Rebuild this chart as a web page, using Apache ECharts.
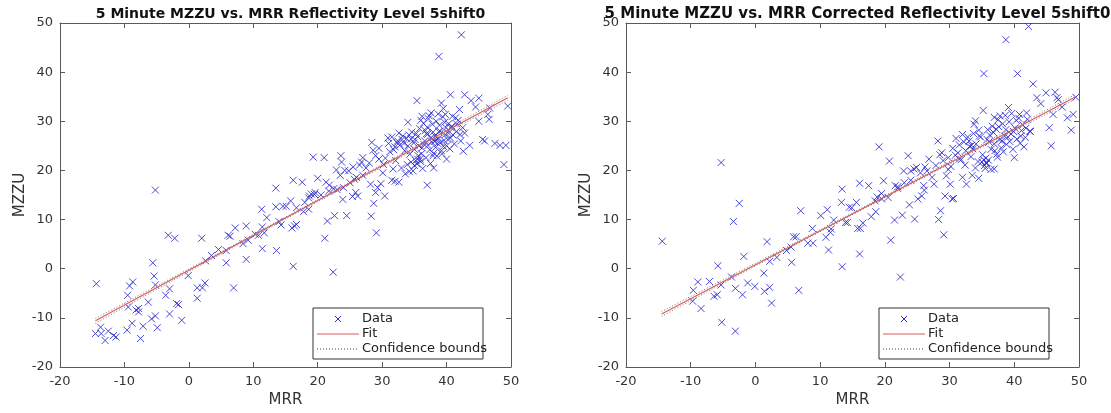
<!DOCTYPE html>
<html>
<head>
<meta charset="utf-8">
<title>MZZU vs MRR</title>
<script src="https://cdn.jsdelivr.net/npm/echarts@6/dist/echarts.min.js"></script>
<style>
  html, body { margin: 0; padding: 0; background: #fff; }
  #chart { width: 1111px; height: 413px; }
</style>
</head>
<body>
<div id="chart"></div>
<script>
// axis ticks (both panels share them)
const xTicks = [-20, -10, 0, 10, 20, 30, 40, 50]
const yTicks = [-20, -10, 0, 10, 20, 30, 40, 50]

// panel 1: MRR reflectivity vs MZZU, [MRR, MZZU]
const rawPoints = [
  [-14.35, -3.05], [-14.5, -13.2], [-13.6, -13.2], [-13.7, -11.9], [-13.0, -14.6], [-12.5, -12.7],
  [-11.7, -13.6], [-11.3, -13.9], [-9.6, -12.5], [-9.4, -7.8], [-9.5, -5.4], [-9.2, -3.5],
  [-8.7, -2.7], [-8.8, -11.1], [-8.2, -8.4], [-7.8, -8.1], [-7.8, -8.8], [-7.5, -14.2],
  [-7.1, -11.7], [-6.3, -6.8], [-5.6, 1.2], [-5.4, -1.5], [-5.2, -3.3], [-5.8, -10.2],
  [-5.2, -9.6], [-4.9, -12.0], [-5.2, 16.0], [-3.6, -5.4], [-3.0, -4.1], [-3.0, -9.2],
  [-3.2, 6.8], [-2.2, 6.2], [-1.9, -7.1], [-1.6, -7.3], [-1.1, -10.5], [-0.1, -1.4],
  [1.3, -6.0], [1.3, -3.9], [2.0, 6.2], [2.1, -3.9], [2.5, -2.9], [2.6, 1.6],
  [3.5, 2.7], [4.6, 3.9], [5.8, 1.2], [5.8, 3.7], [6.1, 6.8], [6.4, 6.6],
  [6.95, -3.9], [7.2, 8.3], [8.4, 5.1], [8.9, 8.7], [8.9, 1.9], [9.2, 5.8],
  [10.3, 7.0], [10.8, 6.8], [11.3, 12.1], [11.4, 4.1], [11.4, 8.5], [11.7, 7.3],
  [12.1, 10.4], [13.5, 16.4], [13.5, 12.6], [13.6, 3.7], [14.0, 9.6], [14.3, 8.9],
  [14.6, 12.7], [15.1, 12.7], [15.8, 13.8], [16.0, 8.3], [16.2, 18.0], [16.2, 0.5],
  [16.4, 8.7], [16.7, 12.4], [16.7, 9.0], [17.6, 17.6], [17.8, 11.6], [18.6, 12.1],
  [18.6, 14.4], [18.7, 14.8], [19.3, 22.7], [19.5, 15.1], [19.6, 15.5], [20.0, 18.4],
  [21.0, 22.6], [21.1, 6.2], [21.5, 9.7], [21.3, 17.6], [21.7, 15.8], [22.4, -0.7],
  [22.6, 10.8], [22.9, 20.1], [23.0, 16.1], [23.6, 23.0], [23.7, 21.7], [23.9, 14.1],
  [24.0, 16.5], [24.5, 10.8], [24.8, 19.9], [25.4, 14.7], [25.7, 18.2], [25.9, 15.5],
  [26.2, 14.8], [26.5, 21.1], [26.8, 21.7], [27.0, 22.6], [28.2, 17.2], [28.3, 10.7],
  [28.4, 25.7], [28.7, 13.3], [29.0, 15.5], [29.1, 7.3], [29.3, 16.5], [29.5, 24.5],
  [29.8, 17.3], [30.1, 19.5], [30.4, 14.8], [30.9, 26.6], [31.5, 18.0], [31.7, 20.3],
  [32.0, 17.8], [32.3, 25.6], [32.6, 17.6], [33.1, 26.3], [34.0, 29.8], [34.5, 21.7],
  [34.8, 19.9], [35.1, 26.3], [35.4, 34.2], [35.9, 22.3], [36.2, 31.0], [37.0, 17.0],
  [37.0, 27.3], [37.6, 31.7], [38.0, 20.5], [38.1, 25.9], [38.8, 43.2], [39.2, 33.7],
  [39.5, 24.9], [39.8, 31.4], [40.0, 22.3], [40.3, 27.6], [40.6, 35.4], [40.7, 28.7],
  [41.4, 30.7], [42.0, 32.4], [42.3, 47.6], [42.6, 23.9], [42.8, 35.4], [42.8, 27.6],
  [43.6, 25.1], [43.8, 34.2], [44.5, 32.9], [45.0, 34.7], [45.0, 30.0], [45.6, 26.3],
  [45.9, 26.0], [46.4, 31.4], [46.6, 30.4], [46.7, 32.7], [47.5, 25.5], [48.3, 25.1],
  [48.9, 21.2], [49.2, 25.1], [49.5, 33.1],
  [31.0, 25.5], [31.5, 26.8], [32.0, 24.8], [32.4, 26.0], [32.8, 25.2], [33.2, 27.0],
  [33.5, 24.0], [33.8, 26.5], [34.0, 25.0], [34.3, 23.3], [34.6, 27.8], [34.9, 25.6],
  [35.2, 22.0], [35.4, 21.3], [35.6, 23.0], [35.8, 28.5], [36.0, 21.8], [36.2, 24.6],
  [36.4, 29.6], [36.6, 26.0], [36.8, 22.6], [37.0, 28.8], [37.2, 30.5], [37.4, 24.2],
  [37.6, 26.7], [37.8, 29.4], [38.0, 23.5], [38.2, 27.0], [38.4, 30.0], [38.6, 25.5],
  [38.8, 26.5], [39.0, 28.0], [39.2, 24.0], [39.4, 30.9], [39.6, 26.1], [39.8, 27.3],
  [40.0, 25.0], [40.3, 29.5], [40.6, 26.6], [40.9, 31.0], [41.2, 25.4], [41.5, 27.9],
  [41.8, 30.2], [42.2, 26.0], [42.5, 28.7], [33.0, 20.5], [33.6, 19.3], [34.2, 19.8],
  [35.0, 21.0], [35.5, 22.3], [36.3, 20.4], [37.5, 21.4], [38.5, 22.9], [39.3, 23.4],
  [30.5, 22.5], [30.2, 21.2], [31.2, 23.8], [29.5, 22.3], [29.0, 23.0], [28.6, 24.1],
  [28.0, 21.5], [27.5, 20.5], [27.0, 19.0], [26.0, 18.6], [25.5, 20.7], [25.0, 17.5],
  [24.2, 20.0], [23.5, 19.0], [22.5, 16.3], [21.8, 17.0], [20.5, 15.0], [19.0, 15.2],
  [18.0, 13.5], [34.5, 26.4], [35.7, 25.0], [36.9, 27.5], [37.7, 25.8], [38.9, 29.2],
  [39.9, 28.7], [40.5, 24.4], [41.0, 27.2], [36.0, 30.2], [37.3, 31.1], [38.7, 31.5],
  [39.5, 32.6],
  [31.8, 24.2], [32.6, 27.6], [33.4, 25.5], [34.2, 27.2], [35.0, 24.3], [35.5, 26.9],
  [36.1, 23.4], [36.7, 28.1], [37.1, 25.1], [37.9, 27.8], [38.3, 24.7], [38.8, 27.9],
  [39.1, 25.7], [39.7, 29.8], [40.2, 26.3], [40.8, 29.0], [41.6, 29.4], [42.1, 27.3],
  [35.3, 27.5], [36.5, 25.3], [37.9, 23.0], [38.4, 26.2], [33.9, 21.2], [32.1, 22.0]
]
const rawFit = [[-14.5, -10.6], [49.5, 34.8]]
const rawLower = [[-14.5, -11.1], [15, 10.1], [49.5, 34.3]]
const rawUpper = [[-14.5, -10.1], [15, 10.5], [49.5, 35.3]]

// panel 2: MRR corrected reflectivity vs MZZU
const corrPoints = [
  [-14.4, 5.6], [-9.7, -6.6], [-9.6, -4.4], [-8.9, -2.7], [-8.4, -8.1], [-7.1, -2.6],
  [-6.4, -5.6], [-5.9, -5.3], [-5.8, 0.6], [-5.3, -3.3], [-5.2, -10.9], [-5.3, 21.6],
  [-3.7, -1.7], [-3.4, 9.6], [-3.1, -12.7], [-3.1, -4.0], [-2.5, 13.3], [-2.0, -5.3],
  [-1.8, 2.5], [-1.2, -2.9], [-0.1, -3.6], [1.3, -0.9], [1.4, -4.6], [1.8, 5.5],
  [2.2, -3.8], [2.2, 1.5], [2.5, -7.0], [3.3, 2.3], [4.8, 3.7], [5.6, 1.3],
  [5.9, 6.5], [6.3, 6.5], [5.5, 4.4], [6.7, -4.4], [7.0, 11.8], [8.1, 5.2],
  [8.8, 8.2], [8.9, 5.2], [10.1, 10.8], [10.9, 6.4], [11.1, 12.0], [11.3, 3.8],
  [11.6, 7.4], [11.7, 8.1], [12.1, 9.9], [13.3, 13.5], [13.4, 16.2], [13.4, 0.4],
  [13.9, 9.4], [14.2, 9.4], [14.5, 12.5], [14.9, 12.4], [15.6, 13.5], [15.8, 8.2],
  [16.1, 17.4], [16.1, 3.0], [16.2, 8.2], [16.6, 9.3], [17.5, 16.9], [17.9, 10.6],
  [18.6, 11.6], [18.8, 14.6], [19.1, 24.8], [19.5, 14.2], [19.8, 17.9], [20.7, 21.9],
  [20.9, 5.8], [21.5, 9.9], [21.6, 16.9], [22.0, 16.3], [22.4, -1.7], [22.7, 10.9],
  [22.9, 19.9], [23.6, 23.0], [23.8, 13.0], [24.0, 19.9], [24.6, 10.1], [24.9, 20.6],
  [25.1, 14.2], [25.7, 14.8], [26.0, 16.9], [26.1, 16.0], [26.5, 19.9], [26.8, 22.3],
  [27.6, 17.2], [28.2, 26.0], [28.3, 10.0], [28.6, 11.8], [28.8, 23.6], [29.1, 6.9],
  [29.3, 14.8], [29.5, 18.9], [29.8, 22.6], [30.1, 17.2], [30.4, 14.2], [30.6, 14.3],
  [31.5, 22.3], [32.0, 18.6], [32.6, 17.2], [33.4, 25.1], [34.0, 30.1], [34.5, 18.4],
  [35.2, 32.2], [35.3, 39.7], [35.7, 21.6], [36.4, 24.3], [36.9, 20.3], [37.8, 31.1],
  [38.7, 46.6], [39.1, 32.8], [40.0, 22.6], [40.5, 39.7], [40.8, 31.4], [41.9, 31.7],
  [42.2, 49.3], [42.4, 28.0], [42.9, 37.6], [43.5, 34.8], [44.1, 33.6], [44.9, 35.8],
  [45.4, 28.7], [45.7, 25.0], [46.0, 31.4], [46.3, 35.9], [46.6, 34.8], [46.8, 34.4],
  [47.4, 32.9], [48.2, 30.7], [48.8, 28.2], [49.1, 31.4], [49.5, 34.9],
  [30.5, 24.5], [31.0, 26.5], [31.5, 25.2], [32.0, 27.3], [32.5, 24.0], [33.0, 26.0],
  [33.3, 22.8], [33.7, 27.5], [34.1, 25.4], [34.4, 21.8], [34.8, 26.8], [35.1, 23.2],
  [35.4, 21.0], [35.6, 22.5], [35.9, 28.3], [36.1, 25.8], [36.4, 20.2], [36.6, 29.0],
  [36.8, 27.7], [37.0, 24.0], [37.2, 28.4], [37.5, 30.3], [37.7, 26.2], [38.0, 24.6],
  [38.2, 29.5], [38.5, 27.0], [38.8, 25.3], [39.0, 26.8], [39.2, 29.9], [39.5, 27.4],
  [39.8, 24.3], [40.1, 28.6], [40.4, 26.4], [40.7, 30.6], [41.0, 27.0], [41.3, 29.3],
  [41.7, 26.7], [42.0, 30.4], [42.5, 27.9], [33.5, 19.0], [34.0, 20.5], [35.0, 21.7],
  [36.0, 22.1], [37.3, 23.3], [38.3, 23.8], [29.0, 22.0], [28.5, 23.2], [27.9, 21.0],
  [27.3, 18.6], [26.2, 20.7], [25.5, 19.5], [24.5, 20.3], [24.0, 18.0], [23.0, 17.5],
  [22.0, 16.7], [20.5, 14.5], [19.5, 15.3], [18.5, 13.8], [34.6, 27.0], [35.8, 26.3],
  [36.9, 30.8], [38.6, 31.2], [39.6, 31.6], [40.9, 25.5], [41.5, 24.8], [33.8, 29.4],
  [32.2, 25.8], [31.8, 22.2], [30.2, 20.8],
  [31.3, 23.6], [32.8, 26.8], [33.6, 24.4], [34.5, 28.2], [35.3, 22.2], [35.7, 21.4],
  [36.2, 27.2], [36.9, 25.4], [37.6, 28.9], [38.1, 26.0], [38.7, 28.3], [39.3, 25.9],
  [39.9, 27.9], [40.3, 30.2], [41.1, 28.1], [41.8, 28.6], [35.5, 20.4], [37.4, 22.7],
  [29.8, 20.2], [30.9, 23.1], [32.4, 21.1], [33.1, 24.9]
]
const corrFit = [[-14.5, -9.2], [49.5, 35.0]]
const corrLower = [[-14.5, -9.7], [15, 11.0], [49.5, 34.5]]
const corrUpper = [[-14.5, -8.7], [15, 11.4], [49.5, 35.5]]

const titles = [
  '5 Minute MZZU vs. MRR Reflectivity Level 5shift0',
  '5 Minute MZZU vs. MRR Corrected Reflectivity Level 5shift0'
]
const legendNames = ['Data', 'Fit', 'Confidence bounds']

const FONT = 'DejaVu Sans'
const AXIS_COLOR = '#5a5a5a'
const TEXT_COLOR = '#333'
const DOT_COLOR = '#2c2ccf'
const FIT_COLOR = '#e05a5a'
const BOUND_COLOR = '#444'

const grids = [
  { left: 60, top: 23, width: 451, height: 344 },
  { left: 626, top: 23, width: 453, height: 344 }
]
const titleSizes = [14, 15]

const chart = echarts.init(document.getElementById('chart'), null, { renderer: 'canvas' })

function axisBase(ticks) {
  return {
    type: 'value',
    min: ticks[0],
    max: ticks[ticks.length - 1],
    interval: ticks[1] - ticks[0],
    splitLine: { show: false },
    axisLine: { show: true, onZero: false, lineStyle: { color: AXIS_COLOR, width: 1 } },
    axisTick: { show: true, inside: true, length: 5, lineStyle: { color: AXIS_COLOR } }
  }
}

const xAxes = []
const yAxes = []
grids.forEach((g, i) => {
  xAxes.push(Object.assign(axisBase(xTicks), {
    gridIndex: i, position: 'bottom',
    name: 'MRR', nameLocation: 'middle', nameGap: 24,
    nameTextStyle: { fontFamily: FONT, fontSize: 15, color: TEXT_COLOR },
    axisLabel: { fontFamily: FONT, fontSize: 13, color: TEXT_COLOR, margin: 8 }
  }))
  xAxes.push(Object.assign(axisBase(xTicks), {
    gridIndex: i, position: 'top', axisLabel: { show: false }
  }))
  yAxes.push(Object.assign(axisBase(yTicks), {
    gridIndex: i, position: 'left',
    name: 'MZZU', nameLocation: 'middle', nameGap: 32,
    nameTextStyle: { fontFamily: FONT, fontSize: 15, color: TEXT_COLOR },
    axisLabel: { fontFamily: FONT, fontSize: 13, color: TEXT_COLOR, margin: 7 }
  }))
  yAxes.push(Object.assign(axisBase(yTicks), {
    gridIndex: i, position: 'right', axisLabel: { show: false }
  }))
})

function panelSeries(i, points, fit, lower, upper) {
  const ax = { xAxisIndex: i * 2, yAxisIndex: i * 2 }
  return [
    Object.assign({
      name: legendNames[0], type: 'scatter', data: points,
      symbol: 'path://M0,0L10,10M10,0L0,10', symbolSize: 7,
      itemStyle: { color: 'transparent', borderColor: DOT_COLOR, borderWidth: 1, opacity: 0.85 }
    }, ax),
    Object.assign({
      name: legendNames[1], type: 'line', data: fit, showSymbol: false, symbol: 'none',
      lineStyle: { color: FIT_COLOR, width: 1.2 }, z: 3
    }, ax),
    Object.assign({
      name: legendNames[2], type: 'line', data: lower, showSymbol: false, symbol: 'none', smooth: true,
      lineStyle: { color: BOUND_COLOR, width: 1, type: [1, 2], opacity: 0.7 }, z: 4
    }, ax),
    Object.assign({
      name: legendNames[2], type: 'line', data: upper, showSymbol: false, symbol: 'none', smooth: true,
      lineStyle: { color: BOUND_COLOR, width: 1, type: [1, 2], opacity: 0.7 }, z: 4
    }, ax)
  ]
}

// legend box drawn by hand, MATLAB style (lower right inside the axes)
function legendBox(g) {
  const bx = g.left + 253, by = 308, bw = 170, bh = 51
  const textX = bx + 49
  const rows = [by + 11, by + 26, by + 41]
  const mx = bx + 25, my = rows[0]
  const els = [
    { type: 'rect', shape: { x: bx, y: by, width: bw, height: bh },
      style: { fill: '#fff', stroke: '#333', lineWidth: 1 }, z: 10 },
    { type: 'line', shape: { x1: mx - 3, y1: my - 3, x2: mx + 3, y2: my + 3 },
      style: { stroke: DOT_COLOR, lineWidth: 1 }, z: 11 },
    { type: 'line', shape: { x1: mx + 3, y1: my - 3, x2: mx - 3, y2: my + 3 },
      style: { stroke: DOT_COLOR, lineWidth: 1 }, z: 11 },
    { type: 'line', shape: { x1: bx + 4, y1: rows[1], x2: bx + 46, y2: rows[1] },
      style: { stroke: FIT_COLOR, lineWidth: 1.2 }, z: 11 },
    { type: 'line', shape: { x1: bx + 4, y1: rows[2], x2: bx + 46, y2: rows[2] },
      style: { stroke: BOUND_COLOR, lineWidth: 1, lineDash: [1, 2] }, z: 11 }
  ]
  legendNames.forEach((n, k) => {
    els.push({ type: 'text', x: textX, y: rows[k], z: 11,
      style: { text: n, fontFamily: FONT, fontSize: 13, fill: '#222', verticalAlign: 'middle' } })
  })
  return els
}

chart.setOption({
  animation: false,
  backgroundColor: '#fff',
  title: grids.map((g, i) => ({
    text: titles[i],
    left: g.left + g.width / 2,
    textAlign: 'center',
    top: 2,
    textStyle: { fontFamily: FONT, fontSize: titleSizes[i], fontWeight: 'bold', color: '#111' }
  })),
  grid: grids,
  xAxis: xAxes,
  yAxis: yAxes,
  series: [].concat(
    panelSeries(0, rawPoints, rawFit, rawLower, rawUpper),
    panelSeries(1, corrPoints, corrFit, corrLower, corrUpper)
  ),
  graphic: [].concat(legendBox(grids[0]), legendBox(grids[1]))
})
</script>
</body>
</html>
